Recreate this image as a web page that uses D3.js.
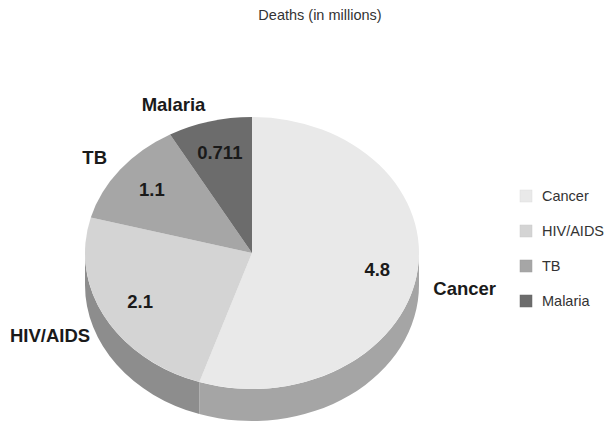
<!DOCTYPE html>
<html>
<head>
<meta charset="utf-8">
<script src="https://cdn.jsdelivr.net/npm/d3@7/dist/d3.min.js"></script>
<style>
  html, body { margin: 0; padding: 0; background: #ffffff; }
  svg { display: block; font-family: "Liberation Sans", Arial, sans-serif; }
</style>
</head>
<body>
<svg id="chart" width="607" height="425"></svg>
<script>
// Deaths by cause, in millions
const categories = ["Cancer", "HIV/AIDS", "TB", "Malaria"];
const deaths = [4.8, 2.1, 1.1, 0.711];
const valueLabels = ["4.8", "2.1", "1.1", "0.711"];
const chartTitle = "Deaths (in millions)";

const topColors = ["#e9e9e9", "#d4d4d4", "#a6a6a6", "#6c6c6c"];
const sideColors = ["#a5a5a5", "#8d8d8d", "#767676", "#4c4c4c"];

const W = 607, H = 425;
const cx = 252, cy = 253;   // centre of the top face
const rx = 167, ry = 136;   // ellipse radii of the tilted disc
const depth = 32;           // thickness of the disc

const svg = d3.select("#chart");

svg.append("text")
  .attr("x", 320).attr("y", 20)
  .attr("text-anchor", "middle")
  .attr("font-size", 14.5)
  .attr("fill", "#333")
  .text(chartTitle);

const pie = d3.pie().sort(null).startAngle(0).endAngle(2 * Math.PI);
const slices = pie(deaths);

// point on the ellipse for a pie angle (clockwise from 12 o'clock)
const pt = (a, k = 1, dy = 0) => [cx + rx * k * Math.sin(a), cy - ry * k * Math.cos(a) + dy];
const f = p => p[0].toFixed(2) + "," + p[1].toFixed(2);

const g = svg.append("g");

// side walls: only the front half (angles between 90 and 270 degrees) is visible
const front0 = Math.PI / 2, front1 = 3 * Math.PI / 2;
slices.forEach((s, i) => {
  const b0 = Math.max(s.startAngle, front0);
  const b1 = Math.min(s.endAngle, front1);
  if (b1 <= b0) return;
  const large = (b1 - b0) > Math.PI ? 1 : 0;
  const d = "M" + f(pt(b0)) +
    " A" + rx + "," + ry + " 0 " + large + " 1 " + f(pt(b1)) +
    " L" + f(pt(b1, 1, depth)) +
    " A" + rx + "," + ry + " 0 " + large + " 0 " + f(pt(b0, 1, depth)) + " Z";
  g.append("path").attr("d", d).attr("fill", sideColors[i]);
});

// top faces
slices.forEach((s, i) => {
  const large = (s.endAngle - s.startAngle) > Math.PI ? 1 : 0;
  const d = "M" + cx + "," + cy +
    " L" + f(pt(s.startAngle)) +
    " A" + rx + "," + ry + " 0 " + large + " 1 " + f(pt(s.endAngle)) + " Z";
  g.append("path").attr("d", d).attr("fill", topColors[i]);
});

// value labels inside the slices
slices.forEach((s, i) => {
  const m = (s.startAngle + s.endAngle) / 2;
  const p = pt(m, 0.76);
  g.append("text")
    .attr("x", p[0]).attr("y", p[1])
    .attr("dy", "0.35em")
    .attr("text-anchor", "middle")
    .attr("font-size", 18.5).attr("font-weight", "bold")
    .attr("fill", "#1a1a1a")
    .text(valueLabels[i]);
});

// category labels around the disc
slices.forEach((s, i) => {
  const m = (s.startAngle + s.endAngle) / 2;
  const frontSide = -Math.cos(m) > 0;
  const p = pt(m, 1.1, frontSide ? depth * 0.36 : -4);
  g.append("text")
    .attr("x", p[0]).attr("y", p[1])
    .attr("dy", "0.35em")
    .attr("text-anchor", Math.sin(m) < 0 ? "end" : "start")
    .attr("font-size", 18.5).attr("font-weight", "bold")
    .attr("fill", "#1a1a1a")
    .text(categories[i]);
});

// legend
const legend = svg.append("g").attr("transform", "translate(520,190)");
const ly = d3.scalePoint().domain(categories).range([0, 105]);
categories.forEach((c, i) => {
  const row = legend.append("g").attr("transform", "translate(0," + ly(c) + ")");
  row.append("rect").attr("width", 12).attr("height", 12).attr("fill", topColors[i])
    .attr("stroke", d3.color(topColors[i]).darker(0.15)).attr("stroke-width", 0.5);
  row.append("text").attr("x", 22).attr("y", 6).attr("dy", "0.35em")
    .attr("font-size", 14.5).attr("fill", "#333").text(c);
});
</script>
</body>
</html>
